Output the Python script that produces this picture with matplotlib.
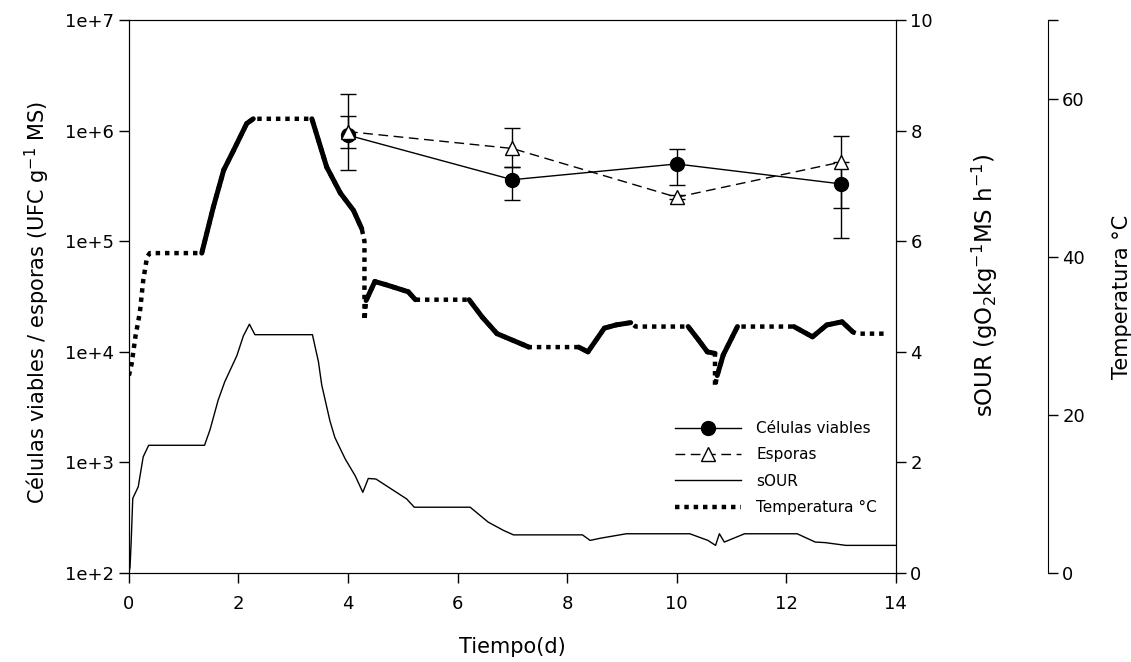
import numpy as np
import matplotlib
matplotlib.use('Agg')
import matplotlib.pyplot as plt
from matplotlib.ticker import NullLocator

plt.rcParams['font.family'] = ['DejaVu Sans']
plt.rcParams['mathtext.default'] = 'regular'

# --- data ---
muestreo_dia = [4, 7, 10, 13]
celulas = [9.1e5, 3.6e5, 5.0e5, 3.3e5]
celulas_lo = [7.0e5, 2.35e5, 3.2e5, 1.07e5]
celulas_hi = [1.35e6, 4.7e5, 6.8e5, 5.2e5]
esporas = [9.8e5, 6.9e5, 2.5e5, 5.2e5]
esporas_lo = [4.4e5, 4.7e5, 2.4e5, 2.0e5]
esporas_hi = [2.15e6, 1.05e6, 2.6e5, 8.9e5]

sour_dia = [0.00, 0.02, 0.04, 0.07, 0.17, 0.26, 0.36, 1.38, 1.48, 1.63, 1.75,
            1.97, 2.09, 2.20, 2.30, 2.33, 3.35, 3.46, 3.52, 3.67, 3.76, 3.95, 4.13,
            4.27, 4.37, 4.51, 4.79, 5.07, 5.21, 6.23, 6.56, 6.84, 7.02, 8.28, 8.42,
            8.61, 9.08, 10.24, 10.57, 10.71, 10.78, 10.87, 11.24, 12.20, 12.53,
            12.71, 13.09, 14.00]
sour = [0.00, 0.11, 0.54, 1.35, 1.56, 2.10, 2.31, 2.31, 2.59, 3.13, 3.46,
        3.93, 4.29, 4.50, 4.31, 4.31, 4.31, 3.82, 3.40, 2.75, 2.45, 2.06, 1.76,
        1.46, 1.71, 1.70, 1.52, 1.34, 1.19, 1.19, 0.92, 0.77, 0.69, 0.69, 0.59,
        0.63, 0.71, 0.71, 0.59, 0.50, 0.71, 0.56, 0.71, 0.71, 0.56,
        0.55, 0.50, 0.50]

temp_dia = [0.00, 0.05, 0.12, 0.20, 0.26, 0.33, 0.38, 1.33, 1.54, 1.73, 1.91, 2.15,
            2.27, 3.34, 3.61, 3.86, 4.10, 4.25, 4.30, 4.30, 4.33, 4.49, 4.69, 5.10,
            5.23, 6.21, 6.45, 6.72, 7.20, 7.30, 8.21, 8.38, 8.68, 8.89, 9.16, 9.25,
            10.21, 10.40, 10.56, 10.70, 10.70, 10.74, 10.85, 11.11, 12.14, 12.48,
            12.74, 13.02, 13.22, 13.30, 13.86]
temp = [25.0, 26.5, 30.0, 33.0, 37.0, 40.0, 40.5, 40.5, 46.3, 51.0, 53.5, 56.9,
        57.5, 57.5, 51.4, 48.1, 45.9, 43.6, 42.0, 32.0, 34.5, 36.9, 36.5, 35.6,
        34.6, 34.6, 32.4, 30.3, 28.9, 28.6, 28.6, 28.0, 31.0, 31.4, 31.7, 31.2,
        31.2, 29.5, 28.0, 27.8, 23.6, 25.0, 27.6, 31.2, 31.2, 29.9,
        31.4, 31.8, 30.5, 30.3, 30.3]

log_ticks = [1e2, 1e3, 1e4, 1e5, 1e6, 1e7]
log_labels = ['1e+2', '1e+3', '1e+4', '1e+5', '1e+6', '1e+7']

fig = plt.figure(figsize=(11.31, 6.62), dpi=100)
ax = fig.add_axes([0.114, 0.1344, 0.678, 0.8353])

ax.set_yscale('log')
ax.set_ylim(1e2, 1e7)
ax.set_xlim(0, 14)
ax.set_xticks(range(0, 15, 2))
ax.set_yticks(log_ticks)
ax.set_yticklabels(log_labels)
ax.yaxis.set_minor_locator(NullLocator())
ax.tick_params(direction='out', length=7, width=1, labelsize=13)
ax.tick_params(axis='x', pad=9)

cel = np.array(celulas)
esp = np.array(esporas)
ax.errorbar(muestreo_dia, cel, yerr=[cel - np.array(celulas_lo), np.array(celulas_hi) - cel],
            fmt='none', ecolor='black', elinewidth=1, capsize=6, capthick=1)
ax.errorbar(muestreo_dia, esp, yerr=[esp - np.array(esporas_lo), np.array(esporas_hi) - esp],
            fmt='none', ecolor='black', elinewidth=1, capsize=6, capthick=1)
l_cel, = ax.plot(muestreo_dia, celulas, color='black', lw=1, marker='o', ms=10,
                 mfc='black', mec='black', label='Células viables', zorder=4)
l_esp, = ax.plot(muestreo_dia, esporas, color='black', lw=1, dashes=(7, 4), marker='^', ms=10,
                 mfc='white', mec='black', label='Esporas', zorder=4)
ax.set_xlabel('Tiempo(d)', fontsize=15)
ax.xaxis.set_label_coords(0.5, -0.115)
ax.set_ylabel('Células viables / esporas (UFC g$^{-1}$ MS)', fontsize=15)
ax.yaxis.set_label_coords(-0.100, 0.49)

ax2 = ax.twinx()
ax2.set_ylim(0, 10)
ax2.set_yticks(range(0, 11, 2))
ax2.tick_params(direction='out', length=7, width=1, labelsize=13)
l_sour, = ax2.plot(sour_dia, sour, color='black', lw=1, label='sOUR')
ax2.set_ylabel('sOUR (gO$_2$kg$^{-1}$MS h$^{-1}$)', fontsize=16.5)
ax2.yaxis.set_label_coords(1.0965, 0.52)

ax3 = ax.twinx()
ax3.set_ylim(0, 70)
ax3.spines['right'].set_position(('axes', 1.198))
for s in ['left', 'top', 'bottom']:
    ax3.spines[s].set_visible(False)
ax3.set_yticks([0, 20, 40, 60, 70])
ax3.set_yticklabels(['0', '20', '40', '60', ''])
ax3.tick_params(direction='out', length=7, width=1, labelsize=13)
ax3.set_ylabel('Temperatura °C', fontsize=15)
ax3.yaxis.set_label_coords(1.282, 0.5)

l_temp, = ax3.plot(temp_dia, temp, color='black', lw=3.2, dashes=(1, 1.1),
                   dash_capstyle='butt', label='Temperatura °C')
# the sloped stretches look solid in the original
for i in range(len(temp_dia) - 1):
    dt = temp_dia[i + 1] - temp_dia[i]
    if dt > 0.09 and temp[i + 1] != temp[i]:
        ax3.plot(temp_dia[i:i + 2], temp[i:i + 2], color='black', lw=3.6,
                 solid_capstyle='round')

ax3.legend(handles=[l_cel, l_esp, l_sour, l_temp], loc='upper left',
           bbox_to_anchor=(0.585, 0.385), bbox_transform=fig.transFigure,
           frameon=False, fontsize=11, handlelength=4.3, labelspacing=0.75,
           handletextpad=1.0)

fig.savefig('out.png', dpi=100)
